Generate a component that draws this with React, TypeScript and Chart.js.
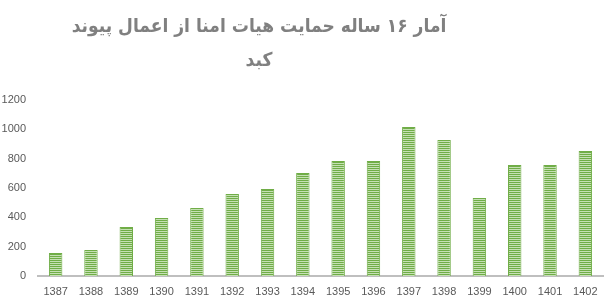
import React, { useEffect, useRef } from "react";
import { Chart, registerables } from "chart.js";

Chart.register(...registerables);

const categories = ["1387", "1388", "1389", "1390", "1391", "1392", "1393", "1394", "1395", "1396", "1397", "1398", "1399", "1400", "1401", "1402"];
const values = [157, 177, 334, 395, 463, 559, 593, 702, 784, 784, 1016, 927, 532, 757, 757, 852];
const titleLines = ["آمار ۱۶ ساله حمایت هیات امنا از اعمال پیوند", "کبد"];
const yTicks = [0, 200, 400, 600, 800, 1000, 1200];

function makePattern(): CanvasPattern | string {
  const c = document.createElement("canvas");
  c.width = 4;
  c.height = 2;
  const ctx = c.getContext("2d");
  if (!ctx) return "#8fc26a";
  ctx.fillStyle = "#70ad47";
  ctx.fillRect(0, 0, 4, 1);
  ctx.fillStyle = "#c5e0b4";
  ctx.fillRect(0, 1, 4, 1);
  const p = ctx.createPattern(c, "repeat");
  return p || "#8fc26a";
}

const titlePlugin = {
  id: "customTitle",
  afterDraw(chart: any) {
    const ctx = chart.ctx as CanvasRenderingContext2D;
    ctx.save();
    ctx.font = "bold 19px 'DejaVu Sans'";
    ctx.fillStyle = "#808080";
    ctx.textAlign = "center";
    ctx.textBaseline = "middle";
    (ctx as any).direction = "rtl";
    ctx.translate(259, 0);
    ctx.scale(0.9, 1);
    ctx.fillText(titleLines[0], 0, 27);
    ctx.fillText(titleLines[1], 0, 61);
    ctx.restore();
  },
};

export default function App() {
  const ref = useRef<HTMLCanvasElement | null>(null);
  useEffect(() => {
    document.body.style.margin = "0";
    if (!ref.current) return;
    const chart = new Chart(ref.current, {
      type: "bar",
      data: {
        labels: categories,
        datasets: [
          {
            data: values,
            backgroundColor: makePattern() as any,
            borderColor: "#70ad47",
            borderWidth: 1,
            barPercentage: 0.38,
            categoryPercentage: 1,
          },
        ],
      },
      options: {
        animation: false,
        responsive: false,
        maintainAspectRatio: false,
        layout: { padding: { top: 100, right: 11, left: 0, bottom: 0 } },
        plugins: { legend: { display: false }, tooltip: { enabled: false }, title: { display: false } },
        scales: {
          x: {
            grid: { display: false, drawTicks: false },
            border: { display: true, color: "#bfbfbf", width: 2 },
            ticks: { color: "#595959", font: { family: "'Liberation Sans'", size: 11 }, padding: 9, maxRotation: 0, autoSkip: false },
            afterFit: (s: any) => { s.height = 30; },
          },
          y: {
            min: 0,
            max: 1200,
            afterBuildTicks: (s: any) => { s.ticks = yTicks.map((v) => ({ value: v })); },
            grid: { display: false, drawTicks: false },
            border: { display: false },
            ticks: {
              color: "#595959",
              font: { family: "'Liberation Sans'", size: 11 },
              padding: 12,
              callback: (v: any) => String(v),
            },
            afterFit: (s: any) => { s.width = 38; },
          },
        },
      },
      plugins: [titlePlugin],
    });
    return () => chart.destroy();
  }, []);
  return (
    <div style={{ width: 614, height: 306 }}>
      <canvas ref={ref} width={614} height={306} style={{ display: "block" }} />
    </div>
  );
}
